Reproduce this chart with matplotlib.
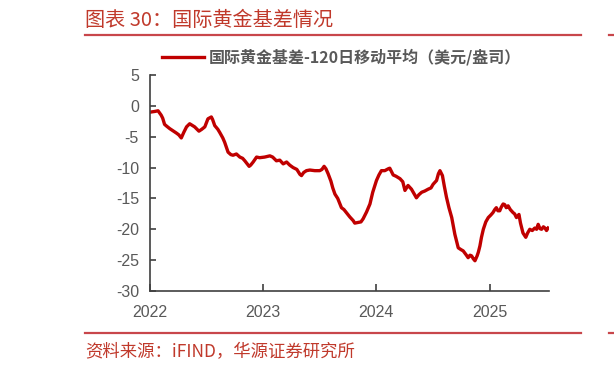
import matplotlib
matplotlib.use("Agg")
import matplotlib.pyplot as plt
from matplotlib.lines import Line2D
import pandas as pd

plt.rcParams['font.family'] = ['Liberation Sans', 'Noto Sans CJK SC', 'DejaVu Sans']
plt.rcParams['axes.unicode_minus'] = False

title = "图表 30：国际黄金基差情况"
source = "资料来源：iFIND，华源证券研究所"
series_name = "国际黄金基差-120日移动平均（美元/盎司）"

dates = [
    "2022-01-04", "2022-01-17", "2022-01-27", "2022-02-06", "2022-02-11", "2022-02-17",
    "2022-02-24", "2022-03-06", "2022-03-15", "2022-03-27", "2022-04-04", "2022-04-12",
    "2022-04-20", "2022-04-29", "2022-05-09", "2022-05-19", "2022-05-25", "2022-06-08",
    "2022-06-17", "2022-06-27", "2022-07-07", "2022-07-18", "2022-07-22", "2022-07-29",
    "2022-08-08", "2022-08-14", "2022-08-24", "2022-08-30", "2022-09-10", "2022-09-19",
    "2022-09-26", "2022-10-07", "2022-10-18", "2022-10-27", "2022-11-03", "2022-11-17",
    "2022-11-22", "2022-11-30", "2022-12-11", "2022-12-21", "2023-01-06", "2023-01-23",
    "2023-02-01", "2023-02-13", "2023-02-24", "2023-03-07", "2023-03-18", "2023-03-28",
    "2023-04-08", "2023-04-20", "2023-04-30", "2023-05-05", "2023-05-12", "2023-05-21",
    "2023-06-01", "2023-06-17", "2023-07-03", "2023-07-10", "2023-07-17", "2023-07-23",
    "2023-07-30", "2023-08-08", "2023-08-14", "2023-08-21", "2023-08-30", "2023-09-11",
    "2023-09-19", "2023-09-27", "2023-10-08", "2023-10-19", "2023-10-24", "2023-11-04",
    "2023-11-13", "2023-11-20", "2023-12-01", "2023-12-12", "2023-12-21", "2024-01-02",
    "2024-01-10", "2024-01-18", "2024-01-29", "2024-02-09", "2024-02-14", "2024-02-25",
    "2024-03-05", "2024-03-18", "2024-03-27", "2024-04-03", "2024-04-13", "2024-04-24",
    "2024-05-02", "2024-05-10", "2024-05-18", "2024-05-27", "2024-06-06", "2024-06-17",
    "2024-06-26", "2024-07-03", "2024-07-14", "2024-07-20", "2024-07-25", "2024-08-02",
    "2024-08-08", "2024-08-15", "2024-08-23", "2024-09-01", "2024-09-06", "2024-09-11",
    "2024-09-17", "2024-09-22", "2024-10-01", "2024-10-08", "2024-10-17", "2024-10-24",
    "2024-10-30", "2024-11-04", "2024-11-10", "2024-11-15", "2024-11-22", "2024-11-26",
    "2024-12-01", "2024-12-06", "2024-12-12", "2024-12-20", "2024-12-28", "2025-01-05",
    "2025-01-12", "2025-01-18", "2025-01-23", "2025-01-28", "2025-02-03", "2025-02-08",
    "2025-02-14", "2025-02-19", "2025-02-24", "2025-03-02", "2025-03-09", "2025-03-18",
    "2025-03-23", "2025-03-29", "2025-04-06", "2025-04-11", "2025-04-19", "2025-04-28",
    "2025-05-04", "2025-05-11", "2025-05-19", "2025-05-27", "2025-06-02", "2025-06-07",
    "2025-06-13", "2025-06-18", "2025-06-24", "2025-06-29", "2025-07-04", "2025-07-09",
]
values = [
    -1.0, -0.9, -0.8, -1.5, -2.0, -3.0,
    -3.3, -3.7, -4.0, -4.4, -4.7, -5.2,
    -4.3, -3.4, -2.9, -3.2, -3.4, -4.1,
    -3.8, -3.4, -2.1, -1.8, -2.2, -3.2,
    -3.8, -4.3, -5.2, -5.9, -7.5, -7.9,
    -8.0, -7.8, -8.3, -8.5, -8.9, -9.8,
    -9.6, -9.1, -8.3, -8.4, -8.3, -8.1,
    -8.3, -8.9, -8.8, -9.4, -9.1, -9.6,
    -10.0, -10.3, -11.1, -11.3, -10.8, -10.5,
    -10.4, -10.5, -10.5, -10.3, -9.8, -10.2,
    -11.0, -12.2, -13.3, -14.3, -15.0, -16.5,
    -16.8, -17.3, -18.0, -18.6, -19.0, -18.9,
    -18.8, -18.3, -17.2, -15.9, -14.0, -12.1,
    -11.2, -10.5, -10.5, -10.2, -10.1, -11.2,
    -11.4, -11.8, -12.3, -13.7, -12.9, -13.5,
    -14.2, -14.9, -14.4, -14.0, -13.8, -13.5,
    -13.3, -12.7, -12.1, -11.0, -10.5, -11.3,
    -13.0, -14.8, -16.5, -18.1, -19.5, -20.8,
    -22.0, -23.0, -23.3, -23.5, -24.1, -24.6,
    -24.2, -24.3, -24.8, -25.1, -24.3, -23.7,
    -22.7, -21.3, -20.0, -18.8, -18.1, -17.7,
    -17.3, -16.8, -16.5, -17.0, -17.0, -16.4,
    -15.9, -16.0, -16.5, -16.2, -16.8, -17.3,
    -17.5, -18.1, -17.6, -19.0, -20.6, -21.3,
    -20.6, -20.0, -20.2, -19.8, -20.0, -19.2,
    -19.9, -20.0, -19.6, -19.8, -20.2, -19.8,
]
year_ticks = ["2022", "2023", "2024", "2025"]
y_ticks = [5, 0, -5, -10, -15, -20, -25, -30]

line_color = "#C00000"
red_text = "#C0392B"
rule_color = "#C8464B"
gray = "#595959"

W, H = 614, 372
fig = plt.figure(figsize=(W / 100, H / 100), dpi=100)
ax = fig.add_axes([150 / W, 1 - 291 / H, (549 - 150) / W, (291 - 75) / H])

x = pd.to_datetime(dates)
ax.plot(x, values, color=line_color, lw=2.4, label=series_name, solid_joinstyle='round')

ax.set_ylim(-30, 5)
ax.set_yticks(y_ticks)
ax.set_yticklabels([str(v) for v in y_ticks])
ax.set_xlim(pd.Timestamp("2022-01-01"), pd.Timestamp("2025-07-12"))
ax.set_xticks(pd.to_datetime([y + "-01-01" for y in year_ticks]))
ax.set_xticklabels(year_ticks)

for s in ["top", "right"]:
    ax.spines[s].set_visible(False)
for s in ["left", "bottom"]:
    ax.spines[s].set_color("#404040")
    ax.spines[s].set_linewidth(1.2)
ax.tick_params(axis="y", direction="in", length=4, width=1.2, color="#404040",
               labelsize=11.5, labelcolor=gray, pad=8)
ax.tick_params(axis="x", direction="in", length=5, width=1.2, color="#404040",
               labelsize=11.5, labelcolor=gray, pad=10)

fig.legend(handles=ax.get_lines(), labels=[series_name], loc="center left",
           bbox_to_anchor=(162 / W, 1 - 57 / H), frameon=False, borderpad=0,
           borderaxespad=0, handlelength=2.6, handletextpad=0.33,
           prop={"family": ["Noto Sans CJK SC", "DejaVu Sans"], "size": 11.5, "weight": "bold"},
           labelcolor=gray)

fig.text(85 / W, 1 - 20 / H, title, color=red_text, fontsize=14.5,
         family=["Noto Sans CJK SC", "DejaVu Sans"], va="center", ha="left")
fig.text(85 / W, 1 - 352 / H, source, color=red_text, fontsize=12.5,
         family=["Noto Sans CJK SC", "DejaVu Sans"], va="center", ha="left")

for yy in (35, 333):
    fig.add_artist(Line2D([85 / W, 581 / W], [1 - yy / H, 1 - yy / H], color=rule_color, lw=1.6))
    fig.add_artist(Line2D([609 / W, 1.0], [1 - yy / H, 1 - yy / H], color=rule_color, lw=1.6))

fig.savefig("out.png", dpi=100)
